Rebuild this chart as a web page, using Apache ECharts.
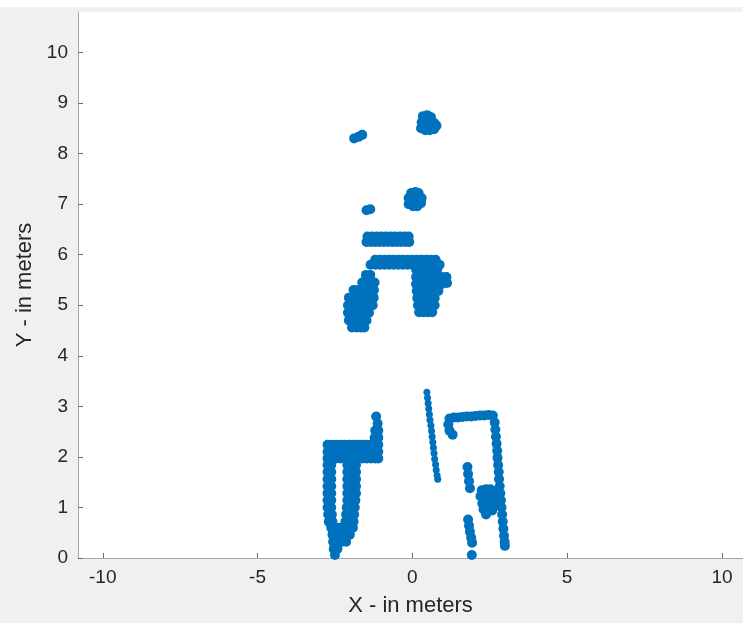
<!DOCTYPE html>
<html>
<head>
<meta charset="utf-8">
<script src="https://cdn.jsdelivr.net/npm/echarts@6/dist/echarts.min.js"></script>
<style>
  html, body { margin: 0; padding: 0; background: #f0f0f0; }
</style>
</head>
<body>
<div id="main" style="width: 743px; height: 623px"></div>
<script>
// tick labels
const xTicks = [-10, -5, 0, 5, 10];
const yTicks = [0, 1, 2, 3, 4, 5, 6, 7, 8, 9, 10];

// lidar returns, [x, y] in meters
const farPoints = [
  [0.28, 8.5], [0.42, 8.46], [0.56, 8.46], [0.7, 8.48], [0.78, 8.55],
  [0.3, 8.62], [0.44, 8.62], [0.58, 8.6], [0.72, 8.6],
  [0.34, 8.74], [0.48, 8.76], [0.6, 8.72],
  [-1.88, 8.3], [-1.74, 8.33], [-1.62, 8.37],
  [-0.12, 7.0], [0.02, 6.96], [0.16, 6.96], [0.28, 7.02],
  [-0.12, 7.12], [0.02, 7.1], [0.16, 7.1], [0.3, 7.12],
  [-0.04, 7.22], [0.1, 7.24], [0.2, 7.22],
  [-1.48, 6.88], [-1.36, 6.9],
];

const barPoints = [
  [-1.48, 6.25], [-1.34, 6.25], [-1.2, 6.25], [-1.06, 6.25], [-0.92, 6.25], [-0.78, 6.25],
  [-0.64, 6.25], [-0.5, 6.25], [-0.36, 6.25], [-0.22, 6.25], [-0.1, 6.25],
  [-1.45, 6.36], [-1.3, 6.36], [-1.15, 6.36], [-1.0, 6.36], [-0.85, 6.36], [-0.7, 6.36],
  [-0.55, 6.36], [-0.4, 6.36], [-0.25, 6.36], [-0.12, 6.36],
];

const archPoints = [
  [-1.2, 5.9], [-1.05, 5.9], [-0.9, 5.9], [-0.75, 5.9], [-0.6, 5.9], [-0.45, 5.9], [-0.3, 5.9],
  [-0.15, 5.9], [0.0, 5.9], [0.15, 5.9], [0.3, 5.9], [0.45, 5.9], [0.6, 5.9], [0.75, 5.9],
  [-1.35, 5.8], [-1.2, 5.8], [-1.05, 5.8], [-0.9, 5.8], [-0.75, 5.8], [-0.6, 5.8], [-0.45, 5.8],
  [-0.3, 5.8], [-0.15, 5.8], [0.0, 5.8], [0.15, 5.8], [0.3, 5.8], [0.45, 5.8], [0.6, 5.8],
  [0.75, 5.8], [0.88, 5.8],
  // left leg
  [-1.5, 5.6], [-1.36, 5.6],
  [-1.62, 5.45], [-1.48, 5.45], [-1.34, 5.45], [-1.22, 5.45],
  [-1.9, 5.3], [-1.76, 5.3], [-1.62, 5.3], [-1.48, 5.3], [-1.34, 5.3], [-1.24, 5.3],
  [-2.05, 5.15], [-1.9, 5.15], [-1.76, 5.15], [-1.62, 5.15], [-1.48, 5.15], [-1.34, 5.15], [-1.25, 5.15],
  [-2.08, 5.0], [-1.94, 5.0], [-1.8, 5.0], [-1.66, 5.0], [-1.52, 5.0], [-1.38, 5.0], [-1.28, 5.0],
  [-2.08, 4.85], [-1.94, 4.85], [-1.8, 4.85], [-1.66, 4.85], [-1.52, 4.85], [-1.4, 4.85],
  [-2.05, 4.7], [-1.9, 4.7], [-1.76, 4.7], [-1.62, 4.7], [-1.48, 4.7],
  [-1.95, 4.56], [-1.8, 4.56], [-1.66, 4.56], [-1.55, 4.56],
  // right leg
  [0.12, 5.7], [0.26, 5.7], [0.4, 5.7], [0.54, 5.7], [0.68, 5.7], [0.8, 5.7],
  [0.12, 5.56], [0.26, 5.56], [0.4, 5.56], [0.54, 5.56], [0.68, 5.56], [0.82, 5.56], [0.96, 5.56], [1.1, 5.56],
  [0.12, 5.42], [0.26, 5.42], [0.4, 5.42], [0.54, 5.42], [0.68, 5.42], [0.82, 5.42], [0.96, 5.42], [1.12, 5.44],
  [0.14, 5.28], [0.28, 5.28], [0.42, 5.28], [0.56, 5.28], [0.7, 5.28], [0.84, 5.28],
  [0.16, 5.14], [0.3, 5.14], [0.44, 5.14], [0.58, 5.14], [0.72, 5.14],
  [0.18, 5.0], [0.32, 5.0], [0.46, 5.0], [0.6, 5.0], [0.72, 5.0],
  [0.22, 4.86], [0.36, 4.86], [0.5, 4.86], [0.64, 4.86],
];

const leftWallPoints = [
  [-1.17, 2.8], [-1.12, 2.66], [-1.1, 2.52], [-1.2, 2.52], [-1.1, 2.38], [-1.22, 2.38],
  [-2.74, 2.24], [-2.6, 2.24], [-2.46, 2.24], [-2.32, 2.24], [-2.18, 2.24], [-2.04, 2.24], [-1.9, 2.24],
  [-1.76, 2.24], [-1.62, 2.24], [-1.48, 2.24], [-1.34, 2.24], [-1.2, 2.24], [-1.1, 2.24],
  [-2.74, 2.1], [-2.6, 2.1], [-2.46, 2.1], [-2.32, 2.1], [-2.18, 2.1], [-2.04, 2.1], [-1.9, 2.1],
  [-1.76, 2.1], [-1.62, 2.1], [-1.48, 2.1], [-1.34, 2.1], [-1.2, 2.1], [-1.1, 2.1],
  [-2.74, 1.97], [-2.6, 1.97], [-2.46, 1.97], [-2.32, 1.97], [-2.18, 1.97], [-2.04, 1.97], [-1.9, 1.97],
  [-1.76, 1.97], [-1.62, 1.97], [-1.48, 1.97], [-1.34, 1.97], [-1.2, 1.97], [-1.1, 1.97],
  // outer column
  [-2.74, 1.84], [-2.62, 1.84], [-2.74, 1.7], [-2.62, 1.7], [-2.74, 1.56], [-2.62, 1.56],
  [-2.74, 1.42], [-2.62, 1.42], [-2.74, 1.28], [-2.62, 1.28], [-2.74, 1.14], [-2.62, 1.14],
  [-2.74, 1.0], [-2.62, 1.0], [-2.72, 0.86], [-2.6, 0.86], [-2.7, 0.72], [-2.58, 0.72],
  // inner column
  [-2.1, 1.84], [-1.96, 1.84], [-1.82, 1.84], [-2.1, 1.7], [-1.96, 1.7], [-1.82, 1.7],
  [-2.1, 1.56], [-1.96, 1.56], [-1.82, 1.56], [-2.1, 1.42], [-1.96, 1.42], [-1.82, 1.42],
  [-2.1, 1.28], [-1.96, 1.28], [-1.82, 1.28], [-2.1, 1.14], [-1.96, 1.14], [-1.84, 1.14],
  [-2.12, 1.0], [-1.98, 1.0], [-1.86, 1.0], [-2.14, 0.86], [-2.0, 0.86], [-1.88, 0.86],
  [-2.16, 0.72], [-2.02, 0.72], [-1.9, 0.72],
  // foot
  [-2.62, 0.6], [-2.48, 0.6], [-2.34, 0.6], [-2.2, 0.6], [-2.06, 0.6], [-1.92, 0.6],
  [-2.58, 0.46], [-2.44, 0.46], [-2.3, 0.46], [-2.16, 0.46], [-2.02, 0.46],
  [-2.56, 0.32], [-2.42, 0.32], [-2.28, 0.32], [-2.14, 0.32],
  [-2.54, 0.18], [-2.42, 0.18], [-2.5, 0.06],
];

const rightWallPoints = [
  [1.2, 2.76], [1.34, 2.78], [1.48, 2.78], [1.62, 2.79], [1.76, 2.8], [1.9, 2.8], [2.04, 2.81],
  [2.18, 2.82], [2.32, 2.82], [2.46, 2.83], [2.6, 2.82],
  [1.16, 2.64], [1.2, 2.52], [1.3, 2.44],
  [2.66, 2.68], [2.68, 2.54], [2.7, 2.4], [2.72, 2.26], [2.74, 2.12], [2.75, 1.98], [2.77, 1.84],
  [2.79, 1.7], [2.8, 1.56], [2.82, 1.42], [2.84, 1.28], [2.86, 1.14], [2.88, 1.0], [2.9, 0.86],
  [2.92, 0.72], [2.94, 0.58], [2.96, 0.44], [2.98, 0.32], [2.99, 0.24],
  [1.78, 1.8], [1.8, 1.66], [1.83, 1.52], [1.86, 1.38],
  [2.24, 1.34], [2.38, 1.36], [2.52, 1.36], [2.66, 1.32],
  [2.2, 1.22], [2.34, 1.22], [2.48, 1.22], [2.62, 1.2],
  [2.26, 1.08], [2.4, 1.08], [2.54, 1.08], [2.68, 1.06],
  [2.3, 0.96], [2.44, 0.96], [2.58, 0.94], [2.38, 0.86],
  [1.8, 0.76], [1.83, 0.64], [1.86, 0.52], [1.9, 0.4], [1.93, 0.3],
  [1.92, 0.06],
];

const thinLinePoints = [
  [0.47, 3.28], [0.49, 3.17], [0.51, 3.06], [0.53, 2.95], [0.55, 2.84], [0.57, 2.73], [0.6, 2.62],
  [0.62, 2.51], [0.64, 2.4], [0.66, 2.29], [0.68, 2.18], [0.7, 2.07], [0.72, 1.96], [0.75, 1.85],
  [0.77, 1.74], [0.8, 1.63], [0.82, 1.56],
];

const font = '"Liberation Sans", Arial, sans-serif';
const blue = '#0072bd';

const pointSeries = (data, size) => ({
  type: 'scatter',
  data: data,
  symbol: 'circle',
  symbolSize: size,
  itemStyle: { color: blue, opacity: 1 },
  silent: true,
});

const chart = echarts.init(document.getElementById('main'));
chart.setOption({
  backgroundColor: '#f0f0f0',
  animation: false,
  textStyle: { fontFamily: font },
  graphic: [
    { type: 'rect', shape: { x: 0, y: 0, width: 743, height: 7 }, style: { fill: '#ffffff' } },
  ],
  grid: {
    left: 78,
    right: 0,
    top: 12,
    bottom: 65,
    show: true,
    backgroundColor: '#ffffff',
    borderWidth: 0,
  },
  xAxis: {
    type: 'value',
    min: -10.8,
    max: 10.68,
    name: 'X - in meters',
    nameLocation: 'middle',
    nameGap: 37,
    nameTextStyle: { fontSize: 22, color: '#262626', fontFamily: font },
    axisLine: { show: true, onZero: false, lineStyle: { color: '#a6a6a6', width: 1 } },
    axisTick: { show: true, inside: true, length: 5, customValues: xTicks, lineStyle: { color: '#6b6b6b' } },
    axisLabel: { customValues: xTicks, fontSize: 19, color: '#262626', margin: 10, fontFamily: font },
    splitLine: { show: false },
  },
  yAxis: {
    type: 'value',
    min: 0,
    max: 10.8,
    name: 'Y - in meters',
    nameLocation: 'middle',
    nameGap: 42,
    nameTextStyle: { fontSize: 22, color: '#262626', fontFamily: font },
    axisLine: { show: true, onZero: false, lineStyle: { color: '#a6a6a6', width: 1 } },
    axisTick: { show: true, inside: true, length: 5, customValues: yTicks, lineStyle: { color: '#6b6b6b' } },
    axisLabel: { customValues: yTicks, fontSize: 19, color: '#262626', margin: 10, fontFamily: font },
    splitLine: { show: false },
  },
  series: [
    pointSeries(farPoints, 10),
    pointSeries(barPoints, 10),
    pointSeries(archPoints, 10),
    pointSeries(leftWallPoints, 10),
    pointSeries(rightWallPoints, 10),
    pointSeries(thinLinePoints, 7),
  ],
});
</script>
</body>
</html>
